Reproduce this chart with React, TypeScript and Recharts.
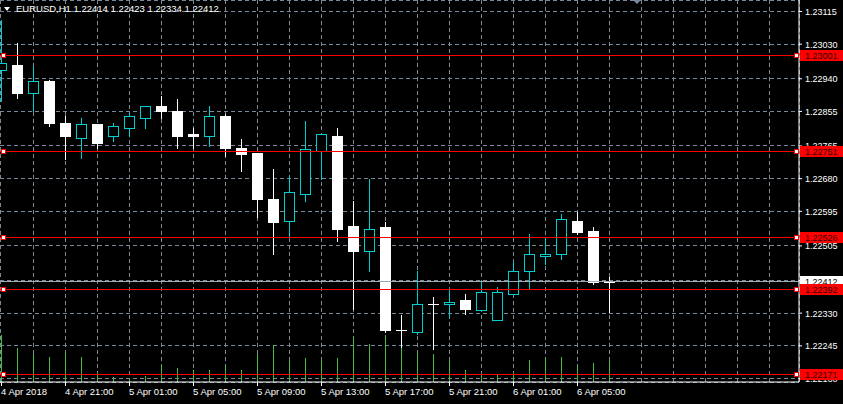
import React, { useState } from 'react'
import { createPortal } from 'react-dom'
import { ComposedChart, Bar, XAxis, YAxis, CartesianGrid, ReferenceLine } from 'recharts'

document.body.style.margin = '0'

// EURUSD H1, 4 Apr 17:00 .. 6 Apr 07:00
const times = [
  '4 Apr 17:00', '4 Apr 18:00', '4 Apr 19:00', '4 Apr 20:00', '4 Apr 21:00', '4 Apr 22:00', '4 Apr 23:00',
  '5 Apr 00:00', '5 Apr 01:00', '5 Apr 02:00', '5 Apr 03:00', '5 Apr 04:00', '5 Apr 05:00', '5 Apr 06:00',
  '5 Apr 07:00', '5 Apr 08:00', '5 Apr 09:00', '5 Apr 10:00', '5 Apr 11:00', '5 Apr 12:00', '5 Apr 13:00',
  '5 Apr 14:00', '5 Apr 15:00', '5 Apr 16:00', '5 Apr 17:00', '5 Apr 18:00', '5 Apr 19:00', '5 Apr 20:00',
  '5 Apr 21:00', '5 Apr 22:00', '5 Apr 23:00', '6 Apr 00:00', '6 Apr 01:00', '6 Apr 02:00', '6 Apr 03:00',
  '6 Apr 04:00', '6 Apr 05:00', '6 Apr 06:00', '6 Apr 07:00',
]
const opens = [
  1.22964, 1.22977, 1.22904, 1.22935, 1.22826, 1.22787, 1.22821, 1.22792, 1.22811, 1.22839,
  1.22868, 1.22855, 1.22795, 1.22790, 1.22842, 1.22761, 1.22746, 1.22628, 1.22569, 1.22641,
  1.22753, 1.22792, 1.22558, 1.22493, 1.22553, 1.22287, 1.22282, 1.22355, 1.22353, 1.22363,
  1.22337, 1.22311, 1.22379, 1.22439, 1.22478, 1.22485, 1.22571, 1.22545, 1.22414,
]
const highs = [
  1.23094, 1.23032, 1.22972, 1.22938, 1.22844, 1.22839, 1.22823, 1.22824, 1.22852, 1.22868,
  1.22896, 1.22886, 1.22811, 1.22868, 1.22847, 1.22782, 1.22746, 1.22704, 1.22688, 1.22831,
  1.22795, 1.22811, 1.22623, 1.22680, 1.22566, 1.22324, 1.22439, 1.22373, 1.22392, 1.22379,
  1.22410, 1.22397, 1.22462, 1.22537, 1.22527, 1.22589, 1.22592, 1.22553, 1.22423,
]
const lows = [
  1.22883, 1.22891, 1.22857, 1.22816, 1.22730, 1.22735, 1.22759, 1.22779, 1.22792, 1.22811,
  1.22837, 1.22761, 1.22761, 1.22766, 1.22740, 1.22699, 1.22579, 1.22483, 1.22527, 1.22621,
  1.22680, 1.22519, 1.22342, 1.22439, 1.22282, 1.22241, 1.22277, 1.22236, 1.22321, 1.22327,
  1.22337, 1.22311, 1.22379, 1.22394, 1.22459, 1.22470, 1.22537, 1.22407, 1.22334,
]
const closes = [
  1.22980, 1.22904, 1.22935, 1.22824, 1.22792, 1.22821, 1.22774, 1.22816, 1.22842, 1.22868,
  1.22855, 1.22792, 1.22790, 1.22842, 1.22759, 1.22743, 1.22626, 1.22566, 1.22644, 1.22756,
  1.22795, 1.22548, 1.22491, 1.22550, 1.22285, 1.22285, 1.22355, 1.22353, 1.22360, 1.22340,
  1.22384, 1.22384, 1.22439, 1.22483, 1.22485, 1.22574, 1.22540, 1.22412, 1.22412,
]
const volumes = [
  470, 340, 280, 250, 290, 250, 100, 50, 30, 60,
  170, 140, 120, 120, 160, 120, 280, 370, 220, 240,
  220, 240, 450, 380, 470, 350, 290, 280, 220, 120,
  70, 70, 100, 220, 240, 250, 160, 190, 220,
]

const priceTicks = [1.23115, 1.2303, 1.2294, 1.22855, 1.22765, 1.2268, 1.22595, 1.22505, 1.22415, 1.2233, 1.22245, 1.2216]
const labelIdx = [0, 4, 8, 12, 16, 20, 24, 28, 32, 36]
const axisLabels = ['4 Apr 2018', '4 Apr 21:00', '5 Apr 01:00', '5 Apr 05:00', '5 Apr 09:00', '5 Apr 13:00', '5 Apr 17:00', '5 Apr 21:00', '6 Apr 01:00', '6 Apr 05:00']
const gridIdx = Array.from({ length: 24 }, (_, k) => 2 + k * 2)

const levels = [1.23001, 1.22751, 1.22526, 1.22392, 1.22171]
const bid = 1.22412
const title = 'EURUSD,H1  1.22414 1.22423 1.22334 1.22412'

const data = times.map((t, i) => ({
  i,
  t,
  open: opens[i],
  high: highs[i],
  low: lows[i],
  close: closes[i],
  range: [lows[i], highs[i]],
  vol: volumes[i],
}))

const X_DOMAIN = [-0.09375, 49.84375]
const CYAN = '#00ced1'
const GREEN = '#44bb44'
const GRID = '#778899'
const FONT = '"Liberation Sans", Arial, sans-serif'

const Candle = (props: any) => {
  const { x, y, width, height, payload } = props
  if (!payload || height == null) return null
  const top = Math.min(y, y + height)
  const h = Math.abs(height)
  const { open, close, high, low } = payload
  const py = (p: number) => top + ((high - p) / (high - low)) * h
  const cx = Math.round(x + width / 2 - 0.5) + 0.5
  const bull = close > open
  const color = bull ? CYAN : '#ffffff'
  const bTop = Math.round(py(Math.max(open, close)))
  const bBot = Math.round(py(Math.min(open, close)))
  const hi = Math.round(py(high))
  const lo = Math.round(py(low))
  return (
    <g shapeRendering="crispEdges">
      <line x1={cx} x2={cx} y1={hi} y2={lo + 1} stroke={color} />
      {bull ? (
        <rect x={cx - 5} y={bTop + 0.5} width={10} height={Math.max(bBot - bTop, 1)} fill="#000" stroke={color} />
      ) : (
        <rect x={cx - 5.5} y={bTop} width={11} height={Math.max(bBot - bTop, 0) + 1} fill="#fff" />
      )}
    </g>
  )
}

const VolBar = (props: any) => {
  const { x, y, width, height } = props
  if (height == null) return null
  const cx = Math.round(x + width / 2 - 0.5) + 0.5
  return <line x1={cx} x2={cx} y1={Math.round(y)} y2={Math.round(y + height)} stroke={GREEN} shapeRendering="crispEdges" />
}

const XTick = (props: any) => {
  const { x, payload } = props
  const k = labelIdx.indexOf(payload.value)
  return (
    <text x={x - 0.5} y={395} fill="#fff" fontSize={9.5} fontFamily={FONT} textAnchor="start">
      {k >= 0 ? axisLabels[k] : ''}
    </text>
  )
}

const YTick = (props: any) => {
  const { x, y, payload } = props
  return (
    <text x={x} y={y + 3.5} fill="#fff" fontSize={9} fontFamily={FONT} textAnchor="start">
      {Number(payload.value).toFixed(5)}
    </text>
  )
}

// level tags are portalled into the overlay so they sit above the axis labels
const levelLabel = (overlay: SVGSVGElement | null, value: number, bg: string, fg: string, markers: boolean) => (lp: any) => {
  const vb = lp.viewBox || {}
  const ly = Math.round(vb.y - 0.5) + 0.5
  const right = vb.x + vb.width
  const tag = (
    <g shapeRendering="crispEdges">
      {markers && <rect x={vb.x + 1.5} y={ly - 2} width={4} height={4} fill="#fff" stroke="#ff0000" />}
      {markers && <rect x={right - 4.5} y={ly - 2} width={4} height={4} fill="#fff" stroke="#ff0000" />}
      <rect x={right + 1} y={ly - 6} width={43} height={11} fill={bg} />
      <text x={right + 6} y={ly + 3.5} fill={fg} fontSize={9} fontFamily={FONT} shapeRendering="auto">
        {value.toFixed(5)}
      </text>
    </g>
  )
  return overlay ? createPortal(tag, overlay) : null
}

export default function App() {
  const [overlay, setOverlay] = useState<SVGSVGElement | null>(null)
  return (
    <div style={{ position: 'relative', width: 843, height: 404, background: '#000' }}>
      <ComposedChart width={843} height={404} data={data} margin={{ top: 0, right: 0, bottom: 0, left: 0 }}>
        <XAxis
          dataKey="i"
          type="number"
          domain={X_DOMAIN}
          allowDataOverflow
          ticks={labelIdx}
          interval={0}
          height={22}
          tickSize={4}
          stroke="#fff"
          tick={<XTick />}
        />
        <XAxis xAxisId="v" dataKey="i" type="number" domain={X_DOMAIN} allowDataOverflow hide />
        <XAxis xAxisId="g" dataKey="i" type="number" domain={X_DOMAIN} allowDataOverflow ticks={gridIdx} interval={0} hide />
        <YAxis
          orientation="right"
          type="number"
          domain={[1.221509, 1.231449]}
          allowDataOverflow
          ticks={priceTicks}
          interval={0}
          width={44}
          tickSize={3}
          tickMargin={3}
          stroke="#fff"
          tick={<YTick />}
        />
        <YAxis yAxisId="v" domain={[0, 3820]} hide />
        <CartesianGrid xAxisId="g" stroke={GRID} strokeDasharray="4 3" shapeRendering="crispEdges" />
        <Bar xAxisId="v" yAxisId="v" dataKey="vol" barSize={2} shape={<VolBar />} isAnimationActive={false} />
        <Bar dataKey="range" barSize={11} shape={<Candle />} isAnimationActive={false} />
        <ReferenceLine
          y={bid}
          stroke="#a0a8b0"
          shapeRendering="crispEdges"
          label={{ content: levelLabel(overlay, bid, '#ffffff', '#000000', false) }}
        />
        {levels.map((lv) => (
          <ReferenceLine
            key={lv}
            y={lv}
            stroke="#ff0000"
            shapeRendering="crispEdges"
            label={{ content: levelLabel(overlay, lv, '#ff0000', '#300000', true) }}
          />
        ))}
      </ComposedChart>
      <svg ref={setOverlay} width={843} height={404} style={{ position: 'absolute', left: 0, top: 0, pointerEvents: 'none' }}>
        <polygon points="4,7 10,7 7,11" fill="#fff" />
        <text x={16} y={12} fill="#fff" fontSize={9.5} fontFamily={FONT}>
          {title}
        </text>
        <polygon points="633,0 641,0 637,4" fill={GRID} />
      </svg>
    </div>
  )
}
